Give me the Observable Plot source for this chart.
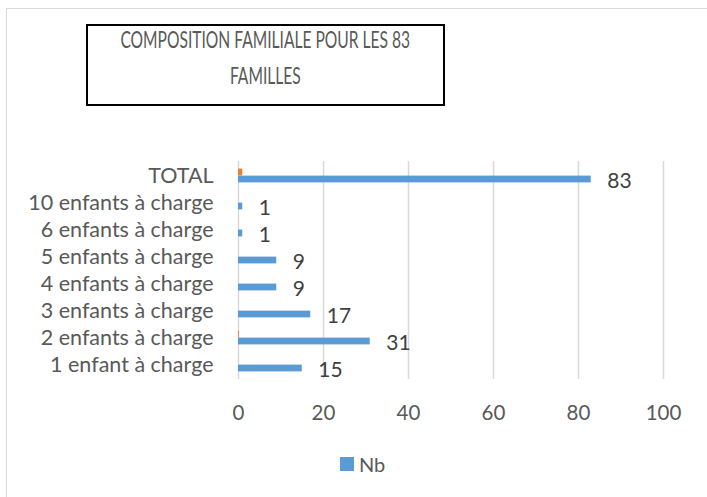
<!DOCTYPE html>
<html><head><meta charset="utf-8">
<script src="https://cdn.jsdelivr.net/npm/d3@7"></script>
<script src="https://cdn.jsdelivr.net/npm/@observablehq/plot@0.6"></script>
<style>
body{margin:0;background:#fff;font-family:Lato,sans-serif;color:#595959;}
#wrap{position:relative;width:707px;height:497px;overflow:hidden;background:#fff;}
#frame{position:absolute;left:6px;top:8px;width:740px;height:540px;border:1.5px solid #d9d9d9;box-sizing:border-box;}
#title{position:absolute;left:86px;top:24px;width:359px;height:82px;border:2px solid #000;box-sizing:border-box;font-size:23.5px;line-height:36.5px;color:#595959;}
#title .inner{position:relative;top:-5.5px;}
#title .row{display:flex;justify-content:center;height:36.5px;}
#title .line{white-space:nowrap;display:inline-block;flex:none;transform-origin:50% 50%;}
#chart{position:absolute;left:0;top:140px;}
#legend{position:absolute;left:340px;top:452px;display:flex;align-items:center;font-size:20px;color:#595959;}
#legend i{display:inline-block;width:14px;height:14px;background:#5b9bd5;margin-right:5px;}
</style></head>
<body>
<div id="wrap">
  <div id="frame"></div>
  <div id="title"><div class="inner"><div class="row"><span class="line" id="t1">COMPOSITION FAMILIALE POUR LES 83</span></div><div class="row"><span class="line" id="t2">FAMILLES</span></div></div></div>
  <div id="chart"></div>
  <div id="legend"><i></i><span>Nb</span></div>
</div>
<script>
const categories = ["1 enfant à charge","2 enfants à charge","3 enfants à charge","4 enfants à charge","5 enfants à charge","6 enfants à charge","10 enfants à charge","TOTAL"];
const nb = [15,31,17,9,9,1,1,83];
const serie2 = [0,0.2,0,0,0,0,0,1];
const xTicks = [0,20,40,60,80,100];

const data = categories.map((c,i)=>({cat:c, nb:nb[i], s2:serie2[i]}));

const chart = Plot.plot({
  width:707, height:290,
  marginLeft:238, marginRight:44, marginTop:21, marginBottom:51,
  style:{fontFamily:"Lato, sans-serif", fontSize:"21.5px", color:"#595959", background:"transparent"},
  x:{domain:[0,100], ticks:xTicks},
  y:{domain:categories.slice().reverse(), padding:0},
  marks:[
    Plot.gridX(xTicks,{stroke:"#d9d9d9", strokeOpacity:1, strokeWidth:1.5}),
    Plot.barX(data.filter(d=>d.s2>0),{x:"s2", y:"cat", fill:"#ed7d31", insetTop:6.6, insetBottom:13.6}),
    Plot.barX(data,{x:"nb", y:"cat", fill:"#5b9bd5", insetTop:13.6, insetBottom:6.6}),
    Plot.text(data,{x:"nb", y:"cat", text:d=>String(d.nb), textAnchor:"start", dx:16, dy:5, fontSize:21, fill:"#404040"}),
    Plot.axisX({ticks:xTicks, tickSize:0, tickPadding:26, label:null, fontSize:20.5}),
    Plot.axisY({tickSize:0, tickPadding:25, label:null})
  ]
});
document.getElementById("chart").appendChild(chart);

const t1 = document.getElementById("t1"), t2 = document.getElementById("t2");
const s = 290 / t1.offsetWidth;
t1.style.transform = `scaleX(${s})`;
t2.style.transform = `scaleX(${s})`;
</script>
</body></html>
